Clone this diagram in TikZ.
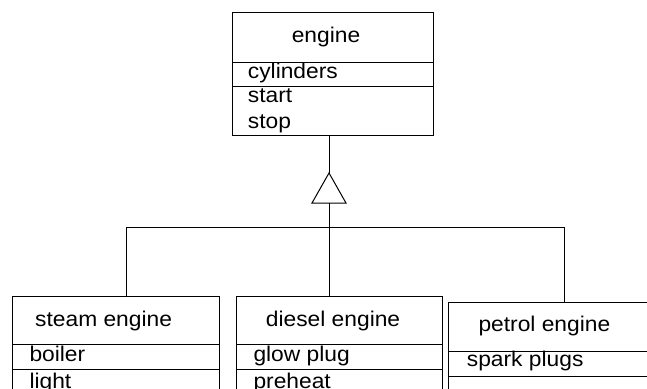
\documentclass[tikz,border=0pt]{standalone}
\usepackage{fontspec}
\setmainfont{Liberation Sans}[FakeStretch=1.07]
\begin{document}
\begin{tikzpicture}[x=1pt,y=-1pt,
  comp/.style={draw=black, line width=1pt, inner sep=0pt, anchor=north west},
  lbl/.style={inner sep=0pt, anchor=base west, font=\fontsize{21.3}{25}\selectfont},
  ttl/.style={inner sep=0pt, anchor=base west, font=\fontsize{21.3}{25}\selectfont},
  conn/.style={draw=black, line width=1pt}]
\useasboundingbox (0,0) rectangle (647,388);
\clip (0,0) rectangle (647,388);
\fill[white] (0,0) rectangle (647,388);
% engine
\node[comp, minimum width=201pt, minimum height=50pt] (engT) at (232,12) {};
\node[comp, minimum width=201pt, minimum height=24pt] (engA) at (232,62) {};
\node[comp, minimum width=201pt, minimum height=49pt] (engO) at (232,86) {};
\node[ttl, anchor=base] (engN) at (326,42.7) {engine};
\node[lbl] (engA1) at (247.7,78.3) {cylinders};
\node[lbl] (engO1) at (247.7,102.5) {start};
\node[lbl] (engO2) at (247.7,128.5) {stop};
% steam
\node[comp, minimum width=207.6pt, minimum height=48pt] (stT) at (11.7,296.3) {};
\node[comp, minimum width=207.6pt, minimum height=25pt] (stA) at (11.7,344.3) {};
\node[comp, minimum width=207.6pt, minimum height=40pt] (stO) at (11.7,369.3) {};
\node[ttl] (stN) at (35,326.7) {steam engine};
\node[lbl] (stA1) at (29.3,361.3) {boiler};
\node[lbl] (stO1) at (29.3,388.5) {light};
% diesel
\node[comp, minimum width=206.3pt, minimum height=48pt] (dT) at (236,296.3) {};
\node[comp, minimum width=206.3pt, minimum height=25pt] (dA) at (236,344.3) {};
\node[comp, minimum width=206.3pt, minimum height=40pt] (dO) at (236,369.3) {};
\node[ttl] (dN) at (265.7,326.7) {diesel engine};
\node[lbl] (dA1) at (253.3,361.3) {glow plug};
\node[lbl] (dO1) at (253.3,388.5) {preheat};
% petrol
\node[comp, minimum width=230pt, minimum height=49.5pt] (pT) at (448.3,301.5) {};
\node[comp, minimum width=230pt, minimum height=25pt] (pA) at (448.3,351) {};
\node[comp, minimum width=230pt, minimum height=40pt] (pO) at (448.3,376) {};
\node[ttl] (pN) at (478.3,331) {petrol engine};
\node[lbl] (pA1) at (466.7,366.5) {spark plugs};
% inheritance
\coordinate (tA) at (329,173);
\coordinate (tL) at (312,203);
\coordinate (tR) at (346,203);
\coordinate (tB) at (329,203);
\coordinate (hub) at (329,227.3);
\coordinate (hL) at (126.7,227.3);
\coordinate (hR) at (564.3,227.3);
\draw[conn] (tA) -- (tL) -- (tR) -- cycle;
\draw[conn] (engO.south -| tA) -- (tA);
\draw[conn] (tB) -- (hub);
\draw[conn] (hL) -- (hR);
\draw[conn] (hL) -- (hL |- stT.north);
\draw[conn] (hub) -- (hub |- dT.north);
\draw[conn] (hR) -- (hR |- pT.north);
\end{tikzpicture}
\end{document}
